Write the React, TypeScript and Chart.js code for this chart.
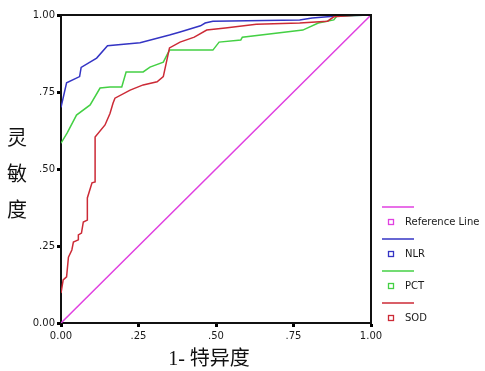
import React, { useEffect, useRef } from 'react';
import { Chart, registerables } from 'chart.js';

Chart.register(...registerables);

const tickValues = [0, 0.25, 0.5, 0.75, 1];
const tickLabels = ['0.00', '.25', '.50', '.75', '1.00'];

const refFpr = [0, 1];
const refTpr = [0, 1];

const nlrFpr = [0, 0.018, 0.06, 0.065, 0.115, 0.15, 0.255, 0.35, 0.384, 0.45, 0.465, 0.49, 0.77, 0.81, 0.89, 1.0];
const nlrTpr = [0.70, 0.78, 0.80, 0.83, 0.86, 0.90, 0.91, 0.935, 0.945, 0.965, 0.974, 0.98, 0.984, 0.99, 0.997, 1.0];

const pctFpr = [0, 0.02, 0.05, 0.094, 0.126, 0.158, 0.196, 0.21, 0.265, 0.287, 0.33, 0.35, 0.49, 0.51, 0.58, 0.585, 0.78, 0.83, 0.88, 0.89, 1.0];
const pctTpr = [0.584, 0.617, 0.675, 0.708, 0.763, 0.766, 0.766, 0.815, 0.815, 0.831, 0.847, 0.886, 0.886, 0.912, 0.919, 0.928, 0.951, 0.974, 0.984, 0.997, 1.0];

const sodFpr = [0, 0.007, 0.018, 0.024, 0.035, 0.04, 0.056, 0.056, 0.066, 0.072, 0.085, 0.085, 0.1, 0.11, 0.11, 0.142, 0.158, 0.168, 0.174, 0.223, 0.265, 0.31, 0.33, 0.35, 0.384, 0.43, 0.47, 0.53, 0.63, 0.77, 0.86, 0.88, 0.96, 1.0];
const sodTpr = [0.097, 0.14, 0.15, 0.214, 0.237, 0.263, 0.27, 0.286, 0.292, 0.328, 0.334, 0.406, 0.455, 0.458, 0.604, 0.643, 0.68, 0.714, 0.73, 0.756, 0.773, 0.783, 0.8, 0.893, 0.912, 0.928, 0.951, 0.958, 0.97, 0.974, 0.98, 0.994, 1.0, 1.0];

const seriesNames = ['Reference Line', 'NLR', 'PCT', 'SOD'];
const seriesColors = ['#e040e0', '#3434c4', '#44d044', '#cc2a36'];

const yTitleChars = ['灵', '敏', '度'];
const xTitle = '1- 特异度';

const toPoints = (xs: number[], ys: number[]) => xs.map((x, i) => ({ x, y: ys[i] }));

const labelFor = (v: number) => {
  const i = tickValues.findIndex((t) => Math.abs(t - v) < 1e-6);
  return i >= 0 ? tickLabels[i] : '';
};

const decorPlugin = {
  id: 'decor',
  afterDraw(chart: any) {
    const ctx = chart.ctx;
    const a = chart.chartArea;
    ctx.save();
    ctx.strokeStyle = '#111';
    ctx.lineWidth = 2;
    ctx.beginPath();
    ctx.moveTo(a.left, a.top);
    ctx.lineTo(a.right, a.top);
    ctx.lineTo(a.right, a.bottom);
    ctx.stroke();

    const legendX = a.right + 11;
    const startY = 207;
    const step = 32;
    ctx.font = '10px "DejaVu Sans"';
    ctx.textBaseline = 'middle';
    ctx.textAlign = 'left';
    seriesNames.forEach((name, i) => {
      const y = startY + i * step;
      ctx.strokeStyle = seriesColors[i];
      ctx.lineWidth = 1.5;
      ctx.beginPath();
      ctx.moveTo(legendX, y);
      ctx.lineTo(legendX + 32, y);
      ctx.stroke();
      ctx.lineWidth = 1.3;
      ctx.strokeRect(legendX + 6.5, y + 12.5, 5, 5);
      ctx.fillStyle = '#1a1a1a';
      ctx.fillText(name, legendX + 23, y + 15.5);
    });

    ctx.fillStyle = '#111';
    ctx.font = '20px "Noto Sans CJK SC"';
    ctx.textAlign = 'center';
    const ys = [137, 173, 209];
    yTitleChars.forEach((c, i) => ctx.fillText(c, 17, ys[i]));

    ctx.font = '20px "Liberation Serif", "Noto Sans CJK SC"';
    ctx.fillText(xTitle, 209, 360);
    ctx.restore();
  },
};

export default function App() {
  const ref = useRef<HTMLCanvasElement | null>(null);
  useEffect(() => {
    if (!ref.current) return;
    const lineDs = (i: number, xs: number[], ys: number[]) => ({
      label: seriesNames[i],
      data: toPoints(xs, ys),
      borderColor: seriesColors[i],
      backgroundColor: seriesColors[i],
      borderWidth: 1.5,
      pointRadius: 0,
      tension: 0,
      fill: false,
    });
    const chart = new Chart(ref.current, {
      type: 'line',
      data: {
        datasets: [
          lineDs(0, refFpr, refTpr),
          lineDs(3, sodFpr, sodTpr),
          lineDs(2, pctFpr, pctTpr),
          lineDs(1, nlrFpr, nlrTpr),
        ],
      },
      options: {
        animation: false,
        responsive: true,
        maintainAspectRatio: false,
        layout: { padding: { left: 0, top: 15, right: 114, bottom: 0 } },
        plugins: { legend: { display: false }, tooltip: { enabled: false } },
        scales: {
          x: {
            type: 'linear',
            min: 0,
            max: 1,
            afterBuildTicks: (s: any) => {
              s.ticks = tickValues.map((v) => ({ value: v }));
            },
            afterFit: (s: any) => {
              s.height = 48;
            },
            ticks: {
              callback: (v: any) => labelFor(Number(v)),
              font: { family: 'DejaVu Sans', size: 10 },
              color: '#1a1a1a',
              padding: 3,
              maxRotation: 0,
              autoSkip: false,
            },
            grid: { drawOnChartArea: false, drawTicks: true, tickLength: 4, tickWidth: 3, tickColor: '#000' },
            border: { display: true, color: '#111', width: 2 },
          },
          y: {
            type: 'linear',
            min: 0,
            max: 1,
            afterBuildTicks: (s: any) => {
              s.ticks = tickValues.map((v) => ({ value: v }));
            },
            afterFit: (s: any) => {
              s.width = 61;
            },
            ticks: {
              callback: (v: any) => labelFor(Number(v)),
              font: { family: 'DejaVu Sans', size: 10 },
              color: '#1a1a1a',
              padding: 2,
              autoSkip: false,
            },
            grid: { drawOnChartArea: false, drawTicks: true, tickLength: 4, tickWidth: 3, tickColor: '#000' },
            border: { display: true, color: '#111', width: 2 },
          },
        },
      },
      plugins: [decorPlugin],
    });
    return () => chart.destroy();
  }, []);
  return (
    <div style={{ position: 'absolute', left: 0, top: 0, width: 485, height: 371, background: '#fff' }}>
      <canvas ref={ref} />
    </div>
  );
}
